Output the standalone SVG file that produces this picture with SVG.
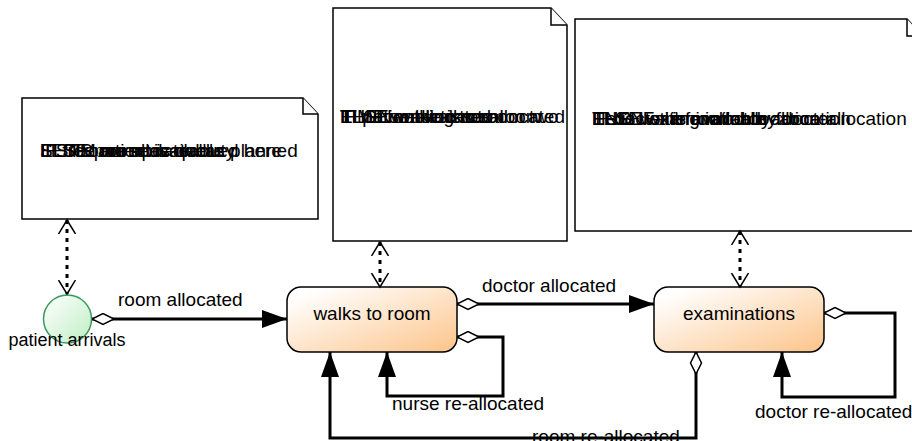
<svg xmlns="http://www.w3.org/2000/svg" width="912" height="441" viewBox="0 0 912 441">
<style>
text{font-family:"Liberation Sans",Arial,sans-serif;fill:#000}
.lbl{font-size:19px}
.nt{font-size:19px}
.note{fill:#fff;stroke:#000;stroke-width:1.5}
.state{fill:url(#og);stroke:#000;stroke-width:1.5}
.edge{fill:none;stroke:#000;stroke-width:3;marker-start:url(#dia);marker-end:url(#arr)}
.dot{fill:none;stroke:#000;stroke-width:3;stroke-dasharray:4 5;marker-start:url(#chev);marker-end:url(#chev)}
</style>
<defs>
<linearGradient id="og" x1="0" y1="0" x2="1" y2="1">
<stop offset="0.1" stop-color="#ffffff"/>
<stop offset="1" stop-color="#fdc48a"/>
</linearGradient>
<linearGradient id="gg" x1="0" y1="0" x2="1" y2="1">
<stop offset="0" stop-color="#ffffff"/>
<stop offset="1" stop-color="#bfeec4"/>
</linearGradient>
<marker id="arr" markerUnits="userSpaceOnUse" markerWidth="26" markerHeight="20" refX="25" refY="9.5" orient="auto" viewBox="0 0 26 20">
<path d="M0,0.5 L25,9.5 L0,18.5 z" fill="#000"/>
</marker>
<marker id="dia" markerUnits="userSpaceOnUse" markerWidth="24" markerHeight="14" refX="0.5" refY="6.5" orient="auto" viewBox="0 0 24 14">
<path d="M0.5,6.5 L11.5,1 L22.5,6.5 L11.5,12 z" fill="#fff" stroke="#000" stroke-width="1.5"/>
</marker>
<marker id="chev" markerUnits="userSpaceOnUse" markerWidth="16" markerHeight="20" refX="14" refY="9" orient="auto-start-reverse" viewBox="0 0 16 20">
<path d="M0,0.5 L14,9 L0,17.5" fill="none" stroke="#000" stroke-width="1.5"/>
</marker>
</defs>

<g id="note1">
<path class="note" d="M22,98 H303 L318,114 V219 H22 z"/>
<path class="note" d="M303,98 V114 H318"/>
<text class="nt" x="40" y="157">IF free room available</text>
<text class="nt" x="40" y="157">ELSE patient is queued here</text>
<text class="nt" x="40" y="157">SET room allocated</text>
<text class="nt" x="40" y="157">IF SIM nurse is on duty</text>
<text class="nt" x="40" y="157">LISTS are updated as planned</text>
</g>

<g id="note2">
<path class="note" d="M333,8 H551 L567,25 V241 H333 z"/>
<path class="note" d="M551,8 V25 H567"/>
<text class="nt" x="340" y="123">THEN walk to room</text>
<text class="nt" x="340" y="123">IF nurse allocated</text>
<text class="nt" x="340" y="123">IF patient walks to room</text>
<text class="nt" x="340" y="123">ELSE nurse is re-allocated</text>
<text class="nt" x="340" y="123">TIME walking to room two</text>
</g>

<g id="note3">
<path class="note" d="M575,19 H907 L923,36 V231 H575 z"/>
<path class="note" d="M907,19 V36 H923"/>
<text class="nt" x="592" y="125">IF doctor is available</text>
<text class="nt" x="592" y="125">THEN examination by doctor</text>
<text class="nt" x="592" y="125">ELSE wait for doctor allocation</text>
<text class="nt" x="592" y="125">END IF the room allocation</text>
<text class="nt" x="592" y="125">He is waiting in lobby for re-allocation</text>
</g>

<g id="patient_arrivals">
<circle cx="67.5" cy="319" r="24" fill="url(#gg)" stroke="#3a9a5c" stroke-width="1.5"/>
<text x="67" y="346" font-size="18" text-anchor="middle">patient arrivals</text>
</g>

<g id="walks_to_room">
<rect class="state" x="287" y="287" width="170" height="65" rx="14"/>
<text class="lbl" x="372" y="320" text-anchor="middle">walks to room</text>
</g>

<g id="examinations">
<rect class="state" x="654" y="287" width="170" height="65" rx="14"/>
<text class="lbl" x="739" y="320" text-anchor="middle">examinations</text>
</g>

<g id="connectors">
<path class="edge" d="M92,319 H287"/>
<path class="edge" d="M457,304 H654"/>
<path class="edge" d="M457,337 H503 V396 H387 V352"/>
<path class="edge" d="M696,352 V438 H330 V352"/>
<path class="edge" d="M824,313 H895 V397 H782 V352"/>
<path class="dot" d="M67,220 V294"/>
<path class="dot" d="M380,242 V287"/>
<path class="dot" d="M740,231 V287"/>
<text class="lbl" x="118" y="306">room allocated</text>
<text class="lbl" x="482" y="292">doctor allocated</text>
<text class="lbl" x="392" y="410">nurse re-allocated</text>
<text class="lbl" x="532" y="443">room re-allocated</text>
<text class="lbl" x="755" y="418">doctor re-allocated</text>
</g>
</svg>
